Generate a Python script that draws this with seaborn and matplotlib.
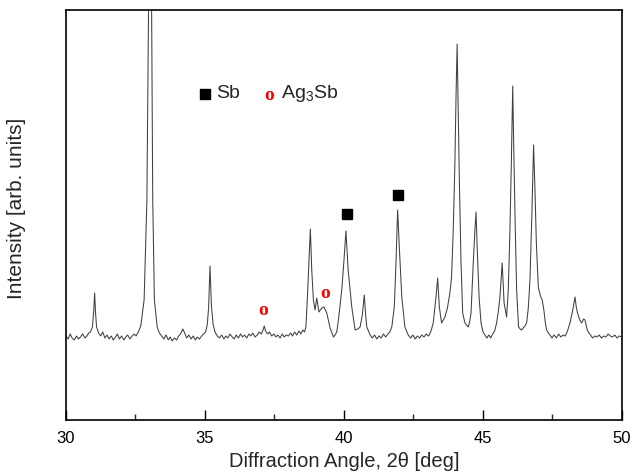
import pandas as pd
import matplotlib
matplotlib.use("Agg")
import matplotlib.pyplot as plt
from matplotlib.ticker import MultipleLocator
import seaborn as sns

# XRD scan (2theta in deg, intensity in arb. units)
two_theta = [
    30.00, 30.08, 30.15, 30.22, 30.30, 30.38, 30.45, 30.52, 30.60, 30.68, 30.75, 30.82,
    30.88, 30.95, 31.00, 31.03, 31.06, 31.10, 31.17,
    31.25, 31.32, 31.40, 31.48, 31.55, 31.63, 31.70, 31.78, 31.85, 31.92, 32.00, 32.08, 32.15, 32.22, 32.30, 32.38, 32.45, 32.52, 32.60,
    32.69, 32.81, 32.91, 32.97, 33.02, 33.08, 33.12, 33.18, 33.28, 33.36,
    33.44, 33.52, 33.60, 33.68, 33.75, 33.82, 33.90, 33.98, 34.05, 34.12, 34.20, 34.27, 34.34, 34.42, 34.50, 34.58, 34.65, 34.72, 34.80, 34.88, 34.95,
    35.02, 35.08, 35.13, 35.18, 35.23, 35.29, 35.36,
    35.44, 35.52, 35.60, 35.68, 35.75, 35.82, 35.90, 35.98, 36.05, 36.12, 36.20, 36.28, 36.35, 36.42, 36.50, 36.58, 36.65, 36.72, 36.80, 36.88,
    36.95, 37.03, 37.10, 37.13, 37.18, 37.25, 37.32, 37.40, 37.48, 37.55, 37.62, 37.70, 37.78, 37.85, 37.92, 38.00, 38.08, 38.15, 38.22, 38.30, 38.38, 38.45, 38.52, 38.58,
    38.63, 38.68, 38.74, 38.79, 38.84, 38.90, 38.96, 39.02, 39.10, 39.20, 39.28, 39.38, 39.50, 39.62, 39.68,
    39.74, 39.80, 39.92, 40.00, 40.07, 40.15, 40.28, 40.40, 40.50, 40.58, 40.66, 40.73, 40.78, 40.82, 40.94,
    41.02, 41.10, 41.18, 41.26, 41.34, 41.42, 41.50, 41.58, 41.65,
    41.72, 41.81, 41.87, 41.93, 41.99, 42.08, 42.19, 42.31,
    42.40, 42.48, 42.56, 42.64, 42.72, 42.80, 42.88, 42.96, 43.04, 43.12,
    43.21, 43.31, 43.37, 43.43, 43.51, 43.57, 43.63, 43.72, 43.81, 43.87, 43.93, 43.99, 44.03, 44.07, 44.10, 44.15, 44.21, 44.27,
    44.35, 44.41, 44.47, 44.52, 44.57, 44.65, 44.71, 44.75, 44.79, 44.86, 44.93, 45.00, 45.07,
    45.14, 45.21, 45.28, 45.35, 45.42,
    45.49, 45.55, 45.61, 45.69, 45.76, 45.85, 45.91, 45.97, 46.02, 46.07, 46.10, 46.15, 46.21, 46.28, 46.34, 46.39, 46.45, 46.51,
    46.57, 46.63, 46.69, 46.76, 46.82, 46.87, 46.92, 46.95, 46.99, 47.04, 47.08, 47.13, 47.19, 47.24, 47.29, 47.35, 47.41,
    47.48, 47.56, 47.64, 47.72, 47.80, 47.88, 47.96, 48.04,
    48.13, 48.23, 48.31, 48.36, 48.40, 48.48, 48.55, 48.62, 48.67, 48.71, 48.75, 48.81, 48.87,
    48.94, 49.02, 49.10, 49.18, 49.26, 49.34, 49.42, 49.50, 49.58, 49.66, 49.74, 49.82, 49.90, 50.00,
]
intensity = [
    84, 81, 86, 82, 80, 84, 81, 83, 86, 82, 84, 87,
    88, 93, 110, 127, 108, 93, 87,
    84, 88, 82, 85, 81, 84, 80, 83, 86, 81, 84, 80, 83, 85, 81, 84, 86, 84, 88,
    94, 120, 220, 410, 620, 410, 220, 120, 93, 87,
    84, 81, 85, 80, 83, 79, 82, 80, 84, 86, 91, 87, 82, 85, 81, 84, 80, 83, 81, 84, 86,
    88, 95, 112, 154, 115, 96, 88,
    84, 82, 85, 81, 84, 82, 86, 83, 81, 85, 82, 86, 83, 85, 82, 86, 84, 87, 83, 85,
    88, 86, 91, 94, 89, 86, 88, 84, 86, 83, 85, 82, 86, 83, 85, 84, 87, 84, 88, 85, 89, 86, 90, 88,
    93, 120, 160, 191, 150, 120, 110, 122, 108, 112, 113, 107, 92, 83, 85,
    88, 100, 130, 160, 189, 150, 113, 90, 91, 93, 105, 125, 105, 93, 85,
    82, 85, 81, 84, 82, 86, 83, 86, 88,
    93, 113, 157, 210, 173, 123, 93, 85,
    82, 85, 81, 84, 82, 85, 83, 86, 84, 88,
    97, 123, 142, 113, 97, 100, 103, 112, 127, 143, 190, 257, 323, 376, 323, 240, 157, 107,
    97, 95, 93, 98, 107, 157, 190, 208, 173, 123, 97, 88, 85,
    82, 85, 82, 86, 89,
    97, 108, 123, 157, 117, 103, 130, 190, 257, 334, 283, 207, 130, 93, 91, 90, 92, 94,
    97, 112, 140, 207, 275, 230, 177, 157, 133, 127, 123, 120, 110, 98, 90, 87, 85,
    82, 85, 82, 86, 83, 85, 84, 89,
    97, 110, 123, 112, 107, 100, 97, 101, 100, 95, 90, 87, 85,
    82, 84, 83, 85, 82, 84, 83, 86, 84, 83, 85, 82, 84, 83,
]

# phase markers
sb_pos = [40.11, 41.94]
sb_height = [206, 225]
ag3sb_pos = [37.10, 39.32]
ag3sb_height = [109, 126]

df = pd.DataFrame({"two_theta": two_theta, "intensity": intensity})

sns.set_style("ticks")
plt.rcParams["font.family"] = ["Liberation Sans", "DejaVu Sans"]
plt.rcParams["mathtext.fontset"] = "custom"
plt.rcParams["mathtext.rm"] = "Liberation Sans"
plt.rcParams["mathtext.it"] = "Liberation Sans:italic"

fig = plt.figure(figsize=(6.31, 4.71), dpi=100)
ax = fig.add_axes([0.1046, 0.1083, 0.8811, 0.8705])

sns.lineplot(data=df, x="two_theta", y="intensity", color="#404040",
             linewidth=0.75, ax=ax)

# phase markers on the peaks
ax.plot(sb_pos, sb_height, linestyle="none", marker="s", markersize=7.5,
        color="black")
for x, y in zip(ag3sb_pos, ag3sb_height):
    ax.text(x, y, "o", color="red", fontsize=14, fontweight="bold",
            ha="center", va="center",
            family=["Liberation Serif", "DejaVu Serif"])

# legend written as text
ax.plot([35.0], [326], linestyle="none", marker="s", markersize=6.5, color="black")
ax.text(35.40, 326, "Sb", fontsize=14, va="center", ha="left")
ax.text(37.31, 324, "o", color="red", fontsize=14, fontweight="bold",
        ha="center", va="center", family=["Liberation Serif", "DejaVu Serif"])
ax.text(37.75, 326, "Ag$_3$Sb", fontsize=14, va="center", ha="left")

ax.set_xlim(30, 50)
ax.set_ylim(0, 410)
ax.set_yticks([])
ax.xaxis.set_major_locator(MultipleLocator(5))
ax.xaxis.set_minor_locator(MultipleLocator(2.5))
ax.tick_params(axis="x", which="major", direction="in", length=7, width=1,
               labelsize=12, pad=8, colors="black")
ax.tick_params(axis="x", which="minor", direction="in", length=4, width=1)
for sp in ax.spines.values():
    sp.set_visible(True)
    sp.set_linewidth(1.2)
    sp.set_color("black")

ax.set_xlabel("Diffraction Angle, 2θ [deg]", fontsize=14.5, labelpad=4)
ax.set_ylabel("Intensity [arb. units]", fontsize=15)
ax.yaxis.set_label_coords(-0.072, 0.515)

fig.savefig("out.png", dpi=100)
